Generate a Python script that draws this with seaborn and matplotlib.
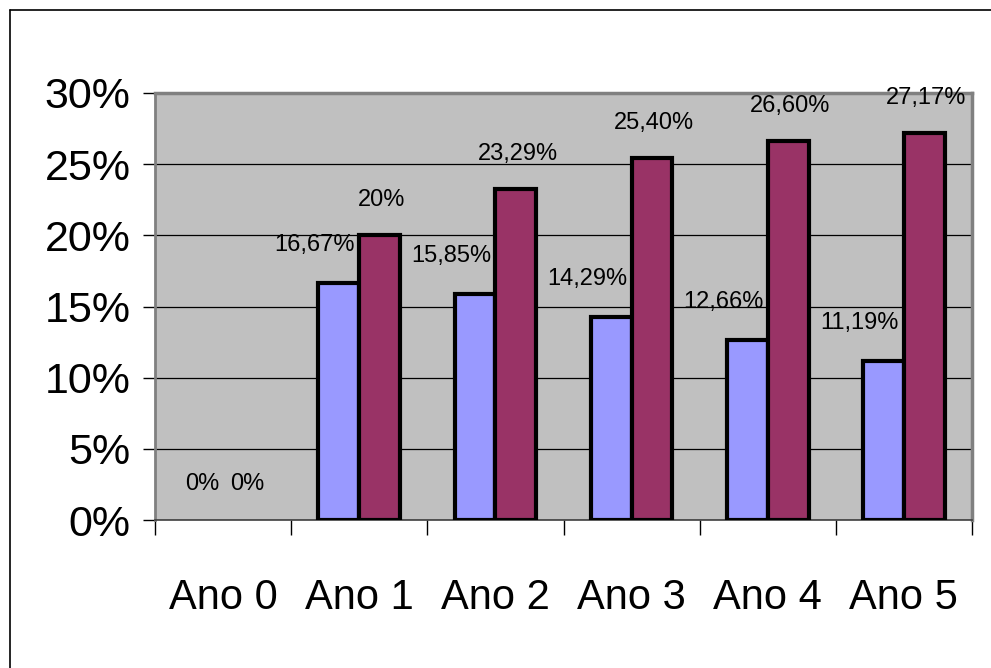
import matplotlib
matplotlib.use("Agg")
import matplotlib.pyplot as plt
import seaborn as sns
import pandas as pd
from matplotlib.lines import Line2D
from matplotlib.ticker import FixedLocator, FuncFormatter

# Data (percent)
anos = ["Ano 0", "Ano 1", "Ano 2", "Ano 3", "Ano 4", "Ano 5"]
serie_a = [0, 16.67, 15.85, 14.29, 12.66, 11.19]
serie_b = [0, 20, 23.29, 25.40, 26.60, 27.17]
y_ticks = [0, 5, 10, 15, 20, 25, 30]

cores = ["#9999FF", "#993366"]

df = pd.DataFrame({
    "ano": anos * 2,
    "valor": serie_a + serie_b,
    "serie": ["A"] * len(anos) + ["B"] * len(anos),
})

sns.set_theme(style="white")
plt.rcParams["font.family"] = ["Liberation Sans", "DejaVu Sans"]
plt.rcParams["text.color"] = "black"
plt.rcParams["xtick.color"] = "black"
plt.rcParams["ytick.color"] = "black"

W, H = 991, 668
fig = plt.figure(figsize=(W / 100, H / 100), dpi=100)
ax = fig.add_axes([155 / W, 1 - 520 / H, (972 - 155) / W, (520 - 93) / H])
ax.set_facecolor("#C0C0C0")

sns.barplot(data=df, x="ano", y="valor", hue="serie", palette=cores,
            width=0.6, gap=0, edgecolor="black", linewidth=3,
            saturation=1, legend=False, ax=ax, zorder=3)

ax.set_ylim(0, 30)
ax.set_xlim(-0.5, len(anos) - 0.5)
ax.set_xlabel("")
ax.set_ylabel("")

# horizontal gridlines
ax.yaxis.set_major_locator(FixedLocator(y_ticks))
ax.yaxis.set_major_formatter(FuncFormatter(lambda v, p: f"{int(v)}%"))
ax.grid(axis="y", color="black", linewidth=0.9)
ax.grid(axis="x", visible=False)
ax.set_axisbelow(True)

ax.tick_params(axis="y", which="major", left=True, length=8.6, width=1,
               color="black", pad=9, labelsize=31, labelcolor="black")
ax.tick_params(axis="x", which="major", bottom=False, length=0, pad=42,
               labelsize=30, labelcolor="black")
# category separators below the axis
ax.set_xticks([i - 0.5 for i in range(len(anos) + 1)], minor=True)
ax.tick_params(axis="x", which="minor", bottom=True, length=11, width=1,
               color="black")

for side in ["top", "right"]:
    ax.spines[side].set_color("#808080")
    ax.spines[side].set_linewidth(2.5)
ax.spines["left"].set_color("#808080")
ax.spines["left"].set_linewidth(2)
ax.spines["bottom"].set_color("#404040")
ax.spines["bottom"].set_linewidth(1.2)


def fmt(v):
    if float(v).is_integer():
        return f"{int(v)}%"
    return f"{v:.2f}%".replace(".", ",")


cont_a, cont_b = ax.containers[0], ax.containers[1]
for i, (ba, bb) in enumerate(zip(cont_a, cont_b)):
    va, vb = serie_a[i], serie_b[i]
    for bar in (ba, bb):
        if bar.get_height() == 0:
            bar.set_visible(False)
    # first-series label moves aside when the neighbour bar is taller
    dx_a = -24 if 0 < va < vb else 0
    dx_b = 2 if vb > 0 else 4
    ax.annotate(fmt(va), (ba.get_x() + ba.get_width() / 2, va),
                xytext=(dx_a, 38 if va > 0 else 36), textcoords="offset pixels",
                ha="center", va="center", fontsize=17, color="black",
                annotation_clip=False, zorder=5)
    ax.annotate(fmt(vb), (bb.get_x() + bb.get_width() / 2, vb),
                xytext=(dx_b, 35 if vb > 0 else 36), textcoords="offset pixels",
                ha="center", va="center", fontsize=17, color="black",
                annotation_clip=False, zorder=5)

# chart frame
fig.add_artist(Line2D([10 / W, 10 / W], [0, 1 - 10 / H], color="black", linewidth=1.2))
fig.add_artist(Line2D([10 / W, 1], [1 - 10 / H, 1 - 10 / H], color="black", linewidth=1.2))

fig.savefig("out.png", dpi=100, facecolor="white")
